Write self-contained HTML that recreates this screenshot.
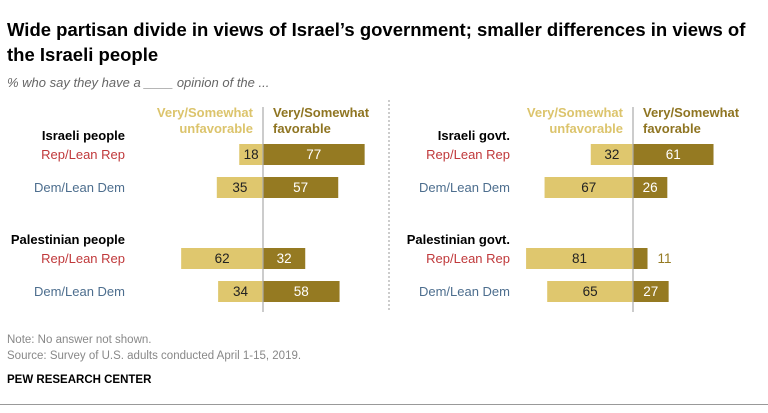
<!DOCTYPE html>
<html><head><meta charset="utf-8"><style>
body{margin:0;width:768px;height:413px;background:#fff;font-family:"Liberation Sans",sans-serif;overflow:hidden;position:relative}
.t{position:absolute;white-space:nowrap}
</style></head><body>
<div class="t" style="left:7px;top:17px;font-size:18.5px;font-weight:bold;line-height:25px;color:#000">Wide partisan divide in views of Israel’s government; smaller differences in views of<br>the Israeli people</div>
<div class="t" style="left:7px;top:75px;font-size:13px;font-style:italic;color:#666">% who say they have a ____ opinion of the ...</div>
<svg id="c" width="768" height="330" style="position:absolute;left:0;top:0"></svg>
<div class="t" style="left:7px;top:334px;font-size:11.5px;color:#888">Note: No answer not shown.</div>
<div class="t" style="left:7px;top:350px;font-size:11.5px;color:#888">Source: Survey of U.S. adults conducted April 1-15, 2019.</div>
<div class="t" style="left:7px;top:374px;font-size:11.5px;font-weight:bold;color:#000">PEW RESEARCH CENTER</div>
<div style="position:absolute;left:0;top:404px;width:768px;height:1px;background:#999"></div>
<script>
const groups=["Israeli people","Palestinian people","Israeli govt.","Palestinian govt."];
const parties=["Rep/Lean Rep","Dem/Lean Dem"];
const unfav=[18,35,62,34,32,67,81,65];
const fav=[77,57,32,58,61,26,11,27];
const svg=document.getElementById('c');const NS='http://www.w3.org/2000/svg';
function mk(tag,a,txt){const e=document.createElementNS(NS,tag);for(const k in a)e.setAttribute(k,a[k]);if(txt!==undefined)e.textContent=txt;svg.appendChild(e);return e;}
const panels=[{cx:263,lab:125},{cx:633,lab:510}];
const rowY=[144,177,248,281];const scale=1.32;const bh=21;
const x=(cx,v)=>v*scale;
const d=mk('line',{x1:389,x2:389,y1:100,y2:312,stroke:'#999','stroke-dasharray':'2,2'});

panels.forEach((p,pi)=>{
 let h=mk('text',{x:p.cx-10,y:117,'text-anchor':'end','font-size':13,'font-weight':'bold',fill:'#dcc46c'});
 
 h.innerHTML='<tspan x="'+(p.cx-10)+'">Very/Somewhat</tspan><tspan x="'+(p.cx-10)+'" dy="16">unfavorable</tspan>';
 let h2=mk('text',{x:p.cx+10,y:117,'font-size':13,'font-weight':'bold',fill:'#8f7522'});
 
 h2.innerHTML='<tspan x="'+(p.cx+10)+'">Very/Somewhat</tspan><tspan x="'+(p.cx+10)+'" dy="16">favorable</tspan>';
 for(let r=0;r<4;r++){
  const i=pi*4+r;const y=rowY[r];const g=groups[pi*2+Math.floor(r/2)];
  if(r%2==0){const gl=mk('text',{x:p.lab,y:y-4,'text-anchor':'end','font-size':13,'font-weight':'bold',fill:'#000'},g);
   }
  const pl=mk('text',{x:p.lab,y:y+15,'text-anchor':'end','font-size':13,fill:r%2==0?'#c0393b':'#4d6e8e'},parties[r%2]);
  
  const uw=x(p.cx,unfav[i]),fw=x(p.cx,fav[i]);
  const ub=mk('rect',{x:p.cx-uw,y:y,width:uw,height:bh,fill:'#dfc76e'});
  
  const fb=mk('rect',{x:p.cx,y:y,width:fw,height:bh,fill:'#957a22'});
  
  const ut=mk('text',{x:p.cx-uw/2,y:y+15,'text-anchor':'middle','font-size':13.5,fill:'#222'},unfav[i]);
  
  const inside=fw>24;
  const ft=mk('text',{x:inside?p.cx+fw/2:p.cx+fw+10,y:y+15,'text-anchor':inside?'middle':'start','font-size':13.5,fill:inside?'#fff':'#957a22'},fav[i]);
  
 }
 const cl=mk('line',{x1:p.cx,x2:p.cx,y1:107,y2:312,stroke:'#aaa','stroke-width':1.2});
 
});
</script>
</body></html>
